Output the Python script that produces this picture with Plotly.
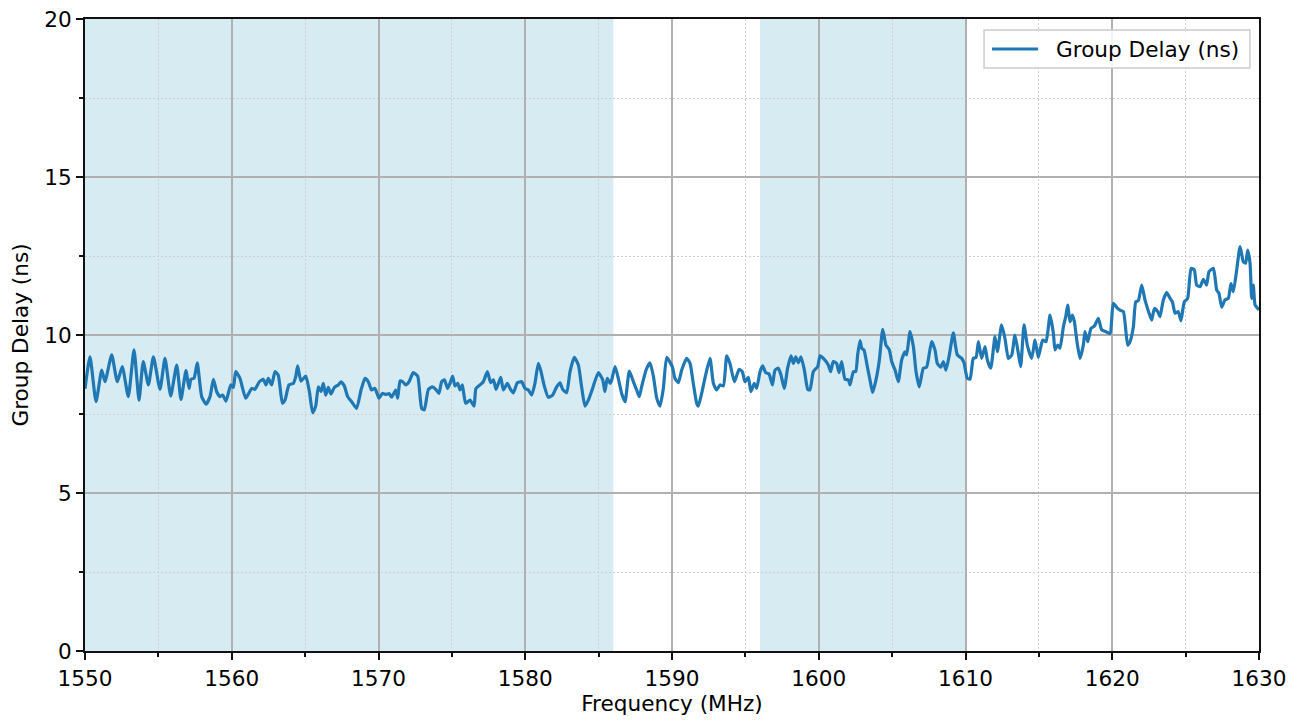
import plotly.graph_objects as go

freq_mhz = [
    1550.00, 1550.34, 1550.75, 1551.14, 1551.36, 1551.82, 1552.20, 1552.54, 1552.95, 1553.34,
    1553.68, 1553.97, 1554.32, 1554.66, 1555.11, 1555.45, 1555.84, 1556.25, 1556.54, 1556.88,
    1557.09, 1557.22, 1557.43, 1557.65, 1557.95, 1558.25, 1558.52, 1558.75, 1558.97, 1559.20,
    1559.38, 1559.61, 1559.93, 1560.11, 1560.27, 1560.56, 1560.95, 1561.36, 1561.58, 1561.88,
    1562.15, 1562.33, 1562.49, 1562.72,
    1562.95, 1563.17, 1563.45, 1563.63, 1563.90, 1564.20, 1564.36, 1564.49, 1564.72, 1565.04,
    1565.29, 1565.51, 1565.72, 1565.90, 1566.08, 1566.24, 1566.40, 1566.58, 1566.76, 1566.99,
    1567.26, 1567.44, 1567.67, 1567.90, 1568.17, 1568.51, 1568.81, 1569.08, 1569.31, 1569.53,
    1569.76, 1570.03, 1570.26, 1570.51, 1570.72, 1570.90, 1571.17, 1571.31, 1571.47, 1571.65,
    1571.85, 1572.08, 1572.37, 1572.67, 1572.94, 1573.12, 1573.40, 1573.67, 1573.90, 1574.12,
    1574.30, 1574.49, 1574.71, 1574.87, 1575.05, 1575.21, 1575.40, 1575.55, 1575.71, 1575.94,
    1576.24,
    1576.51, 1576.64, 1576.92, 1577.14, 1577.42, 1577.64, 1577.83, 1578.01, 1578.17, 1578.33,
    1578.51, 1578.78, 1578.96, 1579.19, 1579.46, 1579.76, 1579.98, 1580.21, 1580.44, 1580.66,
    1580.89, 1581.05, 1581.28, 1581.57, 1581.87, 1582.14, 1582.37, 1582.55, 1582.82, 1583.05,
    1583.34, 1583.62, 1583.84, 1584.07, 1584.30, 1584.59, 1584.98, 1585.28, 1585.43, 1585.59,
    1585.78, 1585.89, 1586.12, 1586.34, 1586.57, 1586.80, 1587.09, 1587.37, 1587.59, 1587.77,
    1587.93, 1588.23, 1588.50, 1588.73, 1588.96, 1589.18, 1589.41,
    1589.64, 1590.02, 1590.20, 1590.43, 1590.66, 1591.00, 1591.23, 1591.45, 1591.68, 1591.79,
    1592.02, 1592.29, 1592.59, 1592.82, 1593.04, 1593.27, 1593.50, 1593.73, 1593.95, 1594.25,
    1594.57, 1594.79, 1594.97, 1595.20, 1595.38, 1595.61, 1595.77, 1596.00, 1596.18, 1596.38,
    1596.61, 1596.84, 1597.02, 1597.25, 1597.43, 1597.65, 1597.88, 1598.11, 1598.27, 1598.43,
    1598.61, 1598.79, 1599.02, 1599.25, 1599.40, 1599.63, 1599.93, 1600.09, 1600.38, 1600.65,
    1600.81, 1600.99, 1601.22, 1601.38, 1601.56, 1601.79, 1602.02, 1602.13, 1602.36, 1602.52,
    1602.65,
    1602.81, 1602.93, 1603.08, 1603.31, 1603.49, 1603.67, 1603.90, 1604.13, 1604.36, 1604.58,
    1604.81, 1604.97, 1605.20, 1605.42, 1605.65, 1605.88, 1605.99, 1606.22, 1606.45, 1606.63,
    1606.85, 1607.13, 1607.35, 1607.69, 1607.92, 1608.08, 1608.31, 1608.49, 1608.67, 1608.90,
    1609.17, 1609.44, 1609.74, 1609.90, 1610.12, 1610.31, 1610.53, 1610.72, 1610.88, 1611.10,
    1611.33, 1611.49, 1611.72, 1612.01, 1612.17, 1612.46, 1612.69, 1612.92, 1613.15, 1613.37,
    1613.60, 1613.76, 1613.99, 1614.21, 1614.51, 1614.74, 1614.96, 1615.26, 1615.49, 1615.76,
    1615.99,
    1616.10, 1616.28, 1616.44, 1616.67, 1616.83, 1616.96, 1617.12, 1617.28, 1617.42, 1617.58,
    1617.80, 1618.03, 1618.14, 1618.33, 1618.55, 1618.78, 1619.05, 1619.28, 1619.55, 1619.85,
    1620.07, 1620.37, 1620.53, 1620.76, 1621.05, 1621.21, 1621.44, 1621.60, 1621.78, 1622.01,
    1622.23, 1622.51, 1622.69, 1622.87, 1623.10, 1623.25, 1623.48, 1623.71, 1623.94, 1624.10,
    1624.28, 1624.50, 1624.68, 1624.91, 1625.14, 1625.37, 1625.59, 1625.75, 1625.98, 1626.21,
    1626.43, 1626.59, 1626.89, 1627.12, 1627.27, 1627.46, 1627.68, 1627.91, 1628.09, 1628.25,
    1628.48, 1628.71, 1628.93, 1629.09, 1629.23, 1629.39, 1629.50, 1629.61, 1629.73, 1629.91,
    1630.00,
]

group_delay_ns = [
    8.30, 9.31, 7.89, 8.89, 8.52, 9.37, 8.52, 9.00, 8.05, 9.53,
    7.94, 9.16, 8.42, 9.31, 8.28, 9.26, 8.07, 9.05, 7.96, 8.87,
    8.31, 8.60, 8.63, 9.12, 8.05, 7.81, 8.05, 8.60, 8.21, 8.05,
    8.10, 7.91, 8.42, 8.34, 8.84, 8.63, 8.00, 8.31, 8.28, 8.52,
    8.60, 8.42, 8.63, 8.42,
    8.84, 8.73, 7.84, 7.94, 8.42, 8.47, 8.68, 9.02, 8.54, 8.70,
    8.21, 7.54, 7.75, 8.36, 8.21, 8.47, 8.10, 8.34, 8.13, 8.34,
    8.42, 8.52, 8.39, 8.05, 7.89, 7.68, 8.26, 8.63, 8.52, 8.26,
    8.31, 8.00, 8.15, 8.12, 8.15, 8.03, 8.26, 8.00, 8.55, 8.52,
    8.42, 8.52, 8.81, 8.70, 7.68, 7.63, 8.28, 8.36, 8.28, 8.15,
    8.52, 8.58, 8.31, 8.47, 8.70, 8.39, 8.47, 8.26, 8.42, 7.84,
    7.94,
    7.75, 8.31, 8.42, 8.52, 8.84, 8.49, 8.58, 8.28, 8.47, 8.66,
    8.26, 8.47, 8.31, 8.17, 8.49, 8.52, 8.31, 8.26, 8.10, 8.47,
    9.10, 8.89, 8.42, 8.03, 8.10, 8.36, 8.49, 8.28, 8.17, 8.84,
    9.29, 9.05, 8.36, 7.75, 7.94, 8.31, 8.81, 8.58, 8.21, 8.63,
    8.47, 8.58, 9.00, 8.63, 8.15, 7.89, 8.86, 8.52, 8.26, 8.05,
    8.36, 8.89, 9.12, 8.70, 8.00, 7.75, 8.31,
    9.29, 9.00, 8.63, 8.49, 8.89, 9.26, 9.10, 8.47, 7.84, 7.75,
    8.15, 8.73, 9.26, 8.47, 8.26, 8.42, 8.39, 9.34, 9.10, 8.52,
    8.91, 8.84, 8.52, 8.66, 8.21, 8.47, 8.31, 8.84, 9.02, 8.81,
    8.77, 8.42, 8.89, 8.95, 8.73, 8.31, 8.95, 9.34, 9.10, 9.31,
    9.12, 9.31, 8.89, 8.28, 8.26, 8.84, 9.00, 9.34, 9.23, 9.05,
    8.84, 9.16, 9.10, 8.81, 9.16, 8.60, 8.58, 8.42, 8.84, 8.84,
    9.37,
    9.82, 9.58, 9.53, 9.00, 8.58, 8.18, 8.58, 9.21, 10.18, 9.68,
    9.53, 9.16, 8.89, 8.52, 9.21, 9.47, 9.37, 10.11, 9.63, 8.84,
    8.36, 8.95, 8.98, 9.79, 9.53, 9.10, 8.98, 9.16, 8.89, 9.37,
    10.07, 9.37, 9.26, 9.12, 8.63, 8.60, 9.26, 9.29, 9.79, 9.26,
    9.63, 9.21, 8.95, 9.95, 9.47, 10.32, 9.89, 9.26, 9.37, 10.00,
    9.42, 9.00, 10.32, 9.68, 9.26, 9.84, 9.29, 9.84, 9.79, 10.63,
    10.05,
    9.53, 9.68, 9.58, 10.26, 10.58, 10.95, 10.42, 10.63, 10.42, 9.84,
    9.26, 9.68, 10.11, 9.79, 10.21, 10.28, 10.53, 10.16, 10.11, 10.05,
    11.00, 10.84, 10.79, 10.74, 9.68, 9.79, 10.26, 11.05, 11.09, 11.58,
    11.11, 10.69, 10.47, 10.84, 10.74, 10.58, 11.11, 11.34, 11.16, 11.05,
    10.69, 10.74, 10.45, 11.05, 11.16, 12.11, 12.06, 11.58, 11.53, 11.76,
    11.58, 12.00, 12.11, 11.42, 11.32, 10.88, 11.11, 11.16, 11.63, 11.37,
    12.06, 12.80, 12.32, 12.27, 12.69, 12.27, 11.16, 11.58, 10.95, 10.84,
    10.80,
]

series_name = "Group Delay (ns)"
shaded_bands = [(1550, 1586), (1596, 1610)]

x_ticks = [1550, 1560, 1570, 1580, 1590, 1600, 1610, 1620, 1630]
y_ticks = [0, 5, 10, 15, 20]

line_color = "#1f77b4"

fig = go.Figure()
fig.add_trace(go.Scatter(
    x=freq_mhz, y=group_delay_ns, mode="lines", name=series_name,
    line=dict(color=line_color, width=3.2, shape="spline", smoothing=0.5),
    showlegend=False,
))

for x0, x1 in shaded_bands:
    fig.add_shape(type="rect", xref="x", yref="paper", x0=x0, x1=x1, y0=0, y1=1,
                  fillcolor="rgba(173,216,230,0.5)", line=dict(width=0), layer="below")

font_main = dict(family="DejaVu Sans", size=21.6, color="#000000")

# matplotlib-style legend box (upper right)
fig.add_shape(type="rect", xref="paper", yref="paper", x0=0.7658, x1=0.9923, y0=0.9225, y1=0.9826,
              fillcolor="rgba(255,255,255,0.85)", line=dict(color="#cccccc", width=1.5), layer="above")
fig.add_shape(type="line", xref="paper", yref="paper", x0=0.7726, x1=0.8118, y0=0.9525, y1=0.9525,
              line=dict(color=line_color, width=3.2), layer="above")
fig.add_annotation(xref="paper", yref="paper", x=0.8250, y=0.9525, xanchor="left", yanchor="middle",
                   text=series_name, showarrow=False, font=font_main)

fig.update_layout(
    width=1285, height=708,
    margin=dict(l=77, r=34, t=11, b=65, autoexpand=False),
    paper_bgcolor="white", plot_bgcolor="white",
    font=font_main,
    showlegend=False,
)

fig.update_xaxes(
    range=[1550, 1630], tickvals=x_ticks, ticktext=[str(v) for v in x_ticks],
    automargin=False, ticklabeloverflow="allow",
    showline=True, linecolor="#111111", linewidth=1.8, mirror=True,
    ticks="outside", ticklen=7, tickwidth=1.5, tickcolor="#111111",
    showgrid=True, gridcolor="#b0b0b0", gridwidth=1.5, zeroline=False,
    minor=dict(dtick=5, tick0=1550, ticks="outside", ticklen=4, tickcolor="#111111",
               showgrid=True, gridcolor="#cfcfcf", griddash="1.5px,2.5px", gridwidth=1),
    title=dict(text="Frequency (MHz)", font=font_main, standoff=13),
    tickfont=font_main,
)
fig.update_yaxes(
    range=[0, 20], tickvals=y_ticks, ticktext=[str(v) for v in y_ticks],
    automargin=False, ticklabeloverflow="allow",
    showline=True, linecolor="#111111", linewidth=1.8, mirror=True,
    ticks="outside", ticklen=7, tickwidth=1.5, tickcolor="#111111",
    showgrid=True, gridcolor="#b0b0b0", gridwidth=1.5, zeroline=False,
    minor=dict(dtick=2.5, tick0=0, ticks="outside", ticklen=4, tickcolor="#111111",
               showgrid=True, gridcolor="#cfcfcf", griddash="1.5px,2.5px", gridwidth=1),
    title=dict(text="Group Delay (ns)", font=font_main, standoff=12),
    tickfont=font_main,
)

fig.write_html("out.html")
